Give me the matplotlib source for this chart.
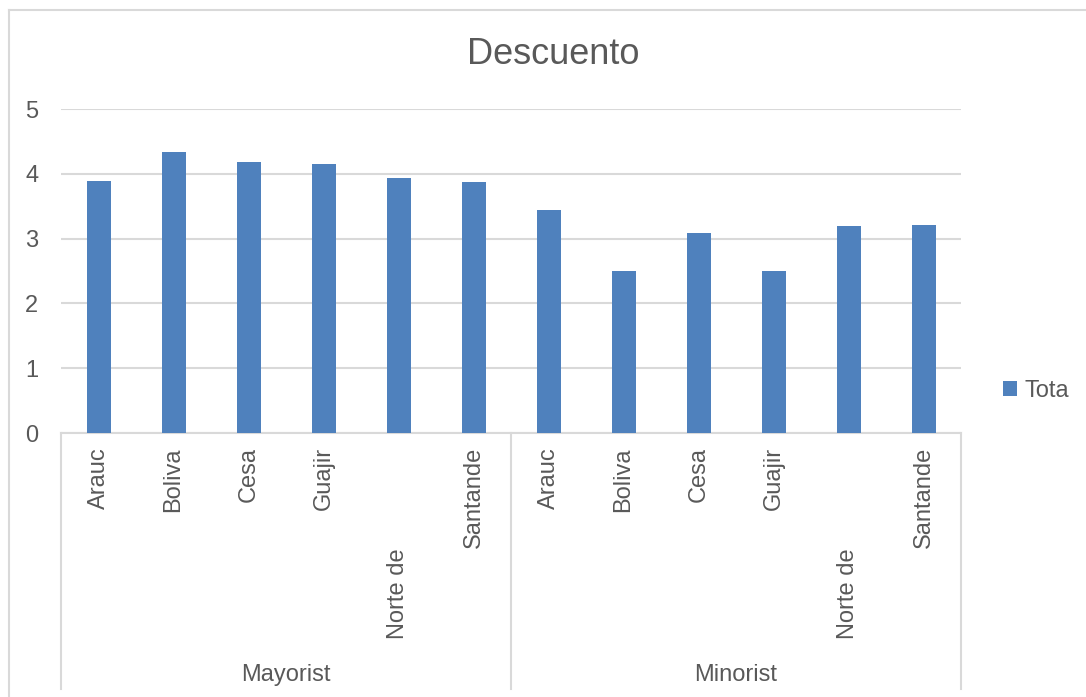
import matplotlib
matplotlib.use("Agg")
import matplotlib.pyplot as plt
from matplotlib.lines import Line2D

# --- data ---
groups = ["Mayorist", "Minorist"]
regions = ["Arauc", "Boliva", "Cesa", "Guajir", "Norte de", "Santande"]
mayorist_vals = [3.89, 4.34, 4.18, 4.15, 3.94, 3.87]
minorist_vals = [3.44, 2.50, 3.09, 2.50, 3.19, 3.21]
series_name = "Tota"
title = "Descuento"

BAR = "#4F81BD"
TXT = "#595959"
GRID = "#D9D9D9"

plt.rcParams["font.family"] = ["Liberation Sans", "DejaVu Sans"]

W, H = 1086, 697
fig = plt.figure(figsize=(W / 100, H / 100), dpi=100)
fig.patch.set_facecolor("white")

# plot area in pixels
x0, x1, y_top, y_bot = 61, 961, 109, 433
ax = fig.add_axes([x0 / W, 1 - y_bot / H, (x1 - x0) / W, (y_bot - y_top) / H])

values = mayorist_vals + minorist_vals
labels = regions + regions
xs = list(range(len(values)))
bars = ax.bar(xs, values, width=0.32, color=BAR, label=series_name, zorder=3)

ax.set_xlim(-0.5, len(values) - 0.5)
ax.set_ylim(0, 5)
ax.set_yticks([0, 1, 2, 3, 4, 5])
ax.yaxis.grid(True, color=GRID, linewidth=1.5, zorder=0)
ax.tick_params(axis="y", length=0, labelsize=17, labelcolor=TXT, pad=21)
for lab in ax.get_yticklabels():
    lab.set_horizontalalignment("center")
ax.set_xticks([])
for s in ["top", "right", "left"]:
    ax.spines[s].set_visible(False)
ax.spines["bottom"].set_color(GRID)
ax.spines["bottom"].set_linewidth(1.5)

def yfrac(py):
    # pixel row -> axes fraction
    return (y_bot - py) / (y_bot - y_top)

tr = ax.get_xaxis_transform()
# category labels
for x, lab in zip(xs, labels):
    if lab == "Norte de":
        ax.text(x, yfrac(639), lab, rotation=90, ha="center", va="bottom",
                fontsize=17, color=TXT, transform=tr, clip_on=False)
    else:
        ax.text(x, yfrac(447), lab, rotation=90, ha="center", va="top",
                fontsize=17, color=TXT, transform=tr, clip_on=False)

# group labels and separators
n = len(regions)
for gi, g in enumerate(groups):
    ax.text(gi * n + (n - 1) / 2, yfrac(675), g, ha="center", va="center",
            fontsize=17, color=TXT, transform=tr, clip_on=False)
for sx in [-0.5, n - 0.5, 2 * n - 0.5]:
    ax.add_line(Line2D([sx, sx], [0, yfrac(689)], color=GRID, linewidth=1.5,
                       transform=tr, clip_on=False))

# title
fig.text(553 / W, 1 - 55 / H, title, ha="center", va="center", fontsize=26, color=TXT)

# legend
leg = fig.legend(handles=[bars], labels=[series_name], loc="center left",
                 bbox_to_anchor=(982 / W, 1 - 391 / H), frameon=False,
                 fontsize=17, handlelength=0.6, handleheight=0.6, handletextpad=0.3,
                 labelcolor=TXT)

# chart border (left and top visible)
fig.add_artist(Line2D([8.5 / W, 8.5 / W], [0, 1 - 10 / H], color=GRID, linewidth=1.5))
fig.add_artist(Line2D([8.5 / W, 1], [1 - 10 / H, 1 - 10 / H], color=GRID, linewidth=1.5))

fig.savefig("out.png", dpi=100)
plt.close(fig)
